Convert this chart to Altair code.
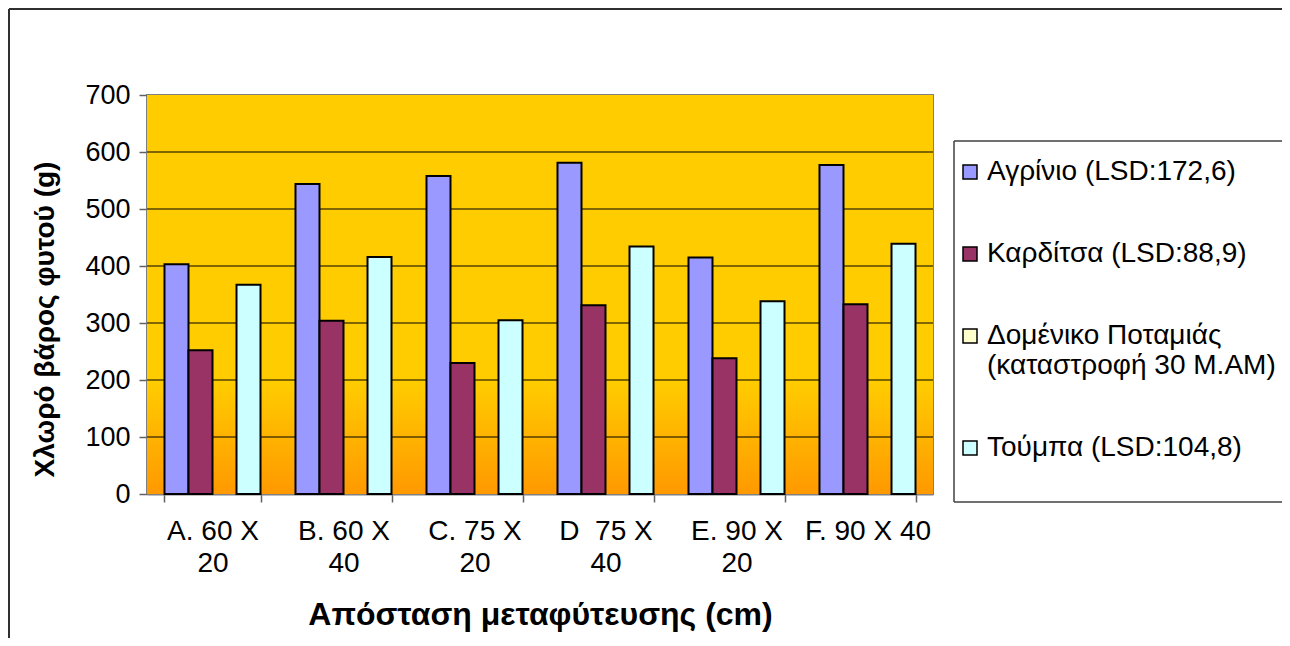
import altair as alt
import pandas as pd

categories = ["A. 60 X 20", "B. 60 X 40", "C. 75 X 20", "D  75 X 40", "E. 90 X 20", "F. 90 X 40"]
series = ["Αγρίνιο (LSD:172,6)", "Καρδίτσα (LSD:88,9)",
          "Δομένικο Ποταμιάς (καταστροφή 30 Μ.ΑΜ)", "Τούμπα (LSD:104,8)"]
colors = ["#9999FF", "#993366", "#FFFFCC", "#CCFFFF"]

agrinio = [403, 544, 558, 581, 415, 577]
karditsa = [252, 304, 230, 331, 238, 333]
domeniko = [None, None, None, None, None, None]
toumpa = [367, 416, 305, 434, 338, 439]

y_ticks = [0, 100, 200, 300, 400, 500, 600, 700]
grid_values = [100, 200, 300, 400, 500, 600]

rows = []
for s, vals in zip(series, [agrinio, karditsa, domeniko, toumpa]):
    for c, v in zip(categories, vals):
        if v is not None:
            rows.append({"cat": c, "series": s, "value": v})
df = pd.DataFrame(rows)

W, H = 786, 399
FONT = "Liberation Sans"

x_label_expr = (
    "datum.value == null ? '' : (datum.value == 'F. 90 X 40' ? datum.value : "
    "[replace(substring(datum.value, 0, 7), '  ', '\u00a0 '), substring(datum.value, 8)])"
)

x_enc = alt.X("cat:N", sort=categories,
              scale=alt.Scale(domain=categories, paddingInner=0.267, paddingOuter=0.1335),
              axis=alt.Axis(title="Απόσταση μεταφύτευσης (cm)", labelAngle=0, tickBand="extent",
                            labelFontSize=28, labelExpr=x_label_expr,
                            labelLineHeight=32, labelPadding=15, titleY=120,
                            titleBaseline="middle", titleFontSize=32))
y_scale = alt.Scale(domain=[0, 700], nice=False)
y_axis = alt.Axis(title="Χλωρό βάρος φυτού (g)", values=y_ticks, grid=False,
                  titleX=-102, titleY=224, titleAngle=-90, titleBaseline="middle",
                  titleAlign="center", titleFontSize=28, labelPadding=9, labelFontSize=27)

gradient = alt.LinearGradient(
    gradient="linear",
    stops=[alt.GradientStop(color="#FFCC00", offset=0),
           alt.GradientStop(color="#FFCC00", offset=0.72),
           alt.GradientStop(color="#FF9900", offset=1)],
    x1=0, x2=0, y1=0, y2=1)

one = pd.DataFrame({"k": [0]})

bg = alt.Chart(one).mark_rect(color=gradient).encode(
    x=alt.value(0), x2=alt.value(W), y=alt.value(0), y2=alt.value(H))

frame_top = alt.Chart(one).mark_rule(color="#303030", strokeWidth=2).encode(
    x=alt.value(-138), x2=alt.value(1250), y=alt.value(-86))
frame_left = alt.Chart(one).mark_rule(color="#303030", strokeWidth=2).encode(
    x=alt.value(-138), y=alt.value(-86), y2=alt.value(700))

legend_fill = alt.Chart(one).mark_rect(fill="white").encode(
    x=alt.value(807), x2=alt.value(1250), y=alt.value(46), y2=alt.value(407))
lg_top = alt.Chart(one).mark_rule(color="#404040", strokeWidth=1.5).encode(
    x=alt.value(807), x2=alt.value(1250), y=alt.value(46))
lg_bottom = alt.Chart(one).mark_rule(color="#404040", strokeWidth=1.5).encode(
    x=alt.value(807), x2=alt.value(1250), y=alt.value(407))
lg_left = alt.Chart(one).mark_rule(color="#404040", strokeWidth=1.5).encode(
    x=alt.value(807), y=alt.value(46), y2=alt.value(407))

grid = alt.Chart(pd.DataFrame({"value": grid_values})).mark_rule(color="black", strokeWidth=1).encode(
    y=alt.Y("value:Q", scale=y_scale, axis=y_axis), x=alt.value(0), x2=alt.value(W))

bars = alt.Chart(df).mark_bar(stroke="black", strokeWidth=2).encode(
    x=x_enc,
    xOffset=alt.XOffset("series:N", scale=alt.Scale(domain=series, paddingInner=0, paddingOuter=0)),
    y=alt.Y("value:Q", scale=y_scale, axis=y_axis),
    color=alt.Color("series:N", scale=alt.Scale(domain=series, range=colors),
                    legend=alt.Legend(title=None, orient="none", legendX=809, legendY=63,
                                      symbolType="square", symbolSize=196,
                                      symbolStrokeColor="black", symbolStrokeWidth=1.5,
                                      labelFontSize=28, labelFont=FONT, labelLimit=0,
                                      labelColor="black",
                                      rowPadding=54, labelOffset=3,
                                      padding=0, symbolOpacity=1,
                                      labelExpr="datum.value == 'Δομένικο Ποταμιάς (καταστροφή 30 Μ.ΑΜ)' ? ['Δομένικο Ποταμιάς', '(καταστροφή 30 Μ.ΑΜ)'] : datum.value")),
)

chart = alt.layer(frame_top, frame_left, legend_fill, lg_top, lg_bottom, lg_left, bg, grid, bars).properties(
    width=W, height=H,
    autosize=alt.AutoSizeParams(type="none"),
    padding={"left": 139, "top": 87, "right": 349, "bottom": 144},
    background="white",
).configure_view(stroke="#808080", strokeWidth=2).configure_axis(
    labelFont=FONT, labelColor="black",
    titleFont=FONT, titleFontWeight="bold", titleColor="black",
    domainColor="#808080", domainWidth=2, tickColor="#606060", tickSize=8, tickWidth=1.5,
)

chart.save("out.html", embed_options={"renderer": "svg", "actions": False})
